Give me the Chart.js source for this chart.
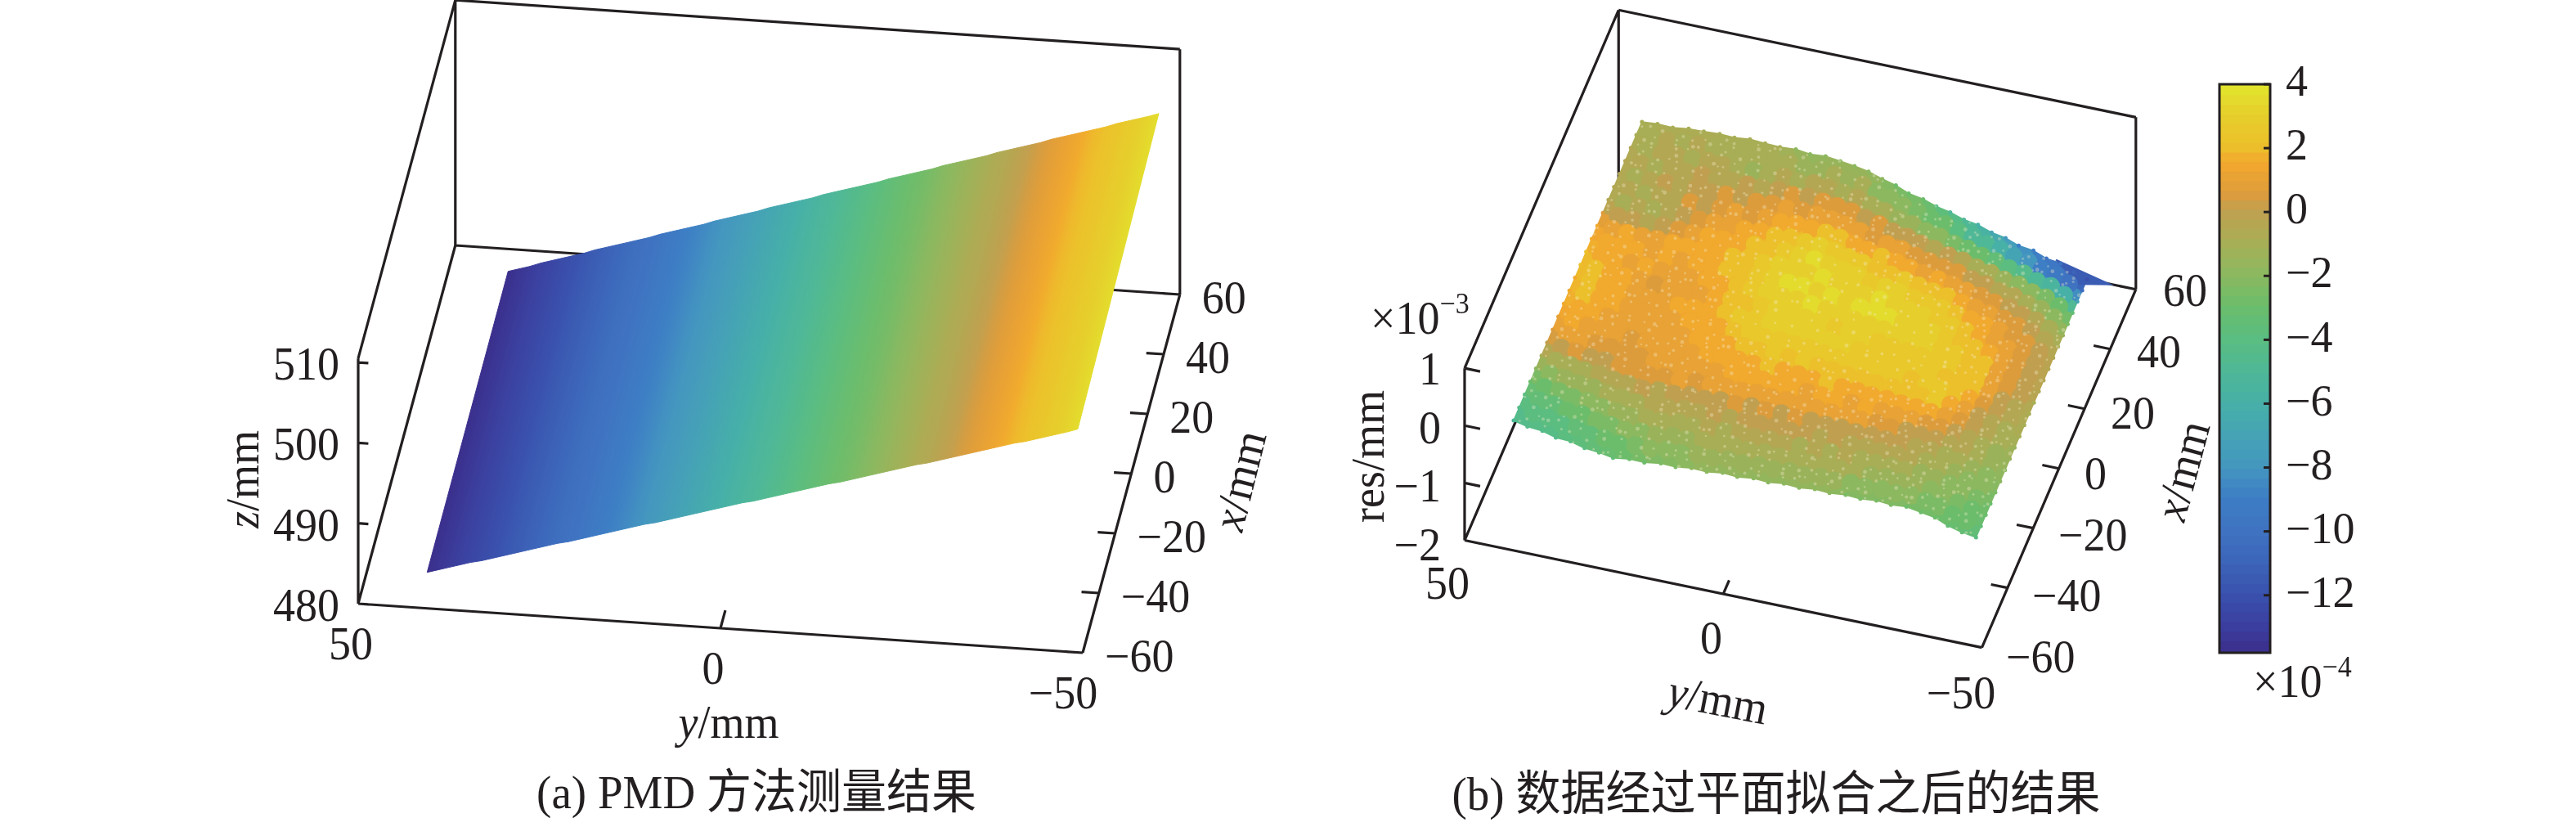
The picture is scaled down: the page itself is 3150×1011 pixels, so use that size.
<!DOCTYPE html>
<html><head><meta charset="utf-8">
<script src="https://cdn.jsdelivr.net/npm/chart.js@4"></script>
<style>
html,body{margin:0;padding:0;background:#fff;width:3150px;height:1011px;overflow:hidden}
canvas{position:absolute;top:0}
</style></head><body>
<canvas id="a" style="left:0"></canvas>
<canvas id="b" style="left:1575px"></canvas>
<canvas id="c" style="left:2700px"></canvas>
<script>
// ---------- axis tick values ----------
const xTicks=[60,40,20,0,-20,-40,-60];
const yTicks=[50,0,-50];
const zTicksA=[510,500,490,480];
const resTicks=[1,0,-1,-2];
const cbTicks=[4,2,0,-2,-4,-6,-8,-10,-12];

// ---------- colour map (value in 1e-4 mm -> colour) ----------
const cmapV=[-13.8,-13,-12,-11,-10,-9,-8,-7,-6,-5,-4,-3,-2,-1,0,0.5,1.45,2,3,3.6,4];
const cmapC=['3b2f8c','3b3f9f','3a52ad','3c65b9','3f73c1','3d7ec5','4497bf','45a4b4','47b0a7','4fb896','5bbd80','6cbd6b','8cb85f','a8ae55','c0a050','dd9c3c','f2a72e','ecc02b','e6cf2c','e3de2d','dfe92e'];

// ---------- panel (a): measured plane, strips along y ----------
const stripY=[41.6,40.1,38.6,37.1,35.6,34.1,32.6,31.1,29.6,28.1,26.6,25.1,23.6,22.1,20.6,19.1,17.6,16.1,14.6,13.1,11.6,10.1,8.6,7.1,5.6,4.1,2.6,1.1,-0.4,-1.9,-3.4,-4.9,-6.4,-7.9,-9.4,-10.9,-12.4,-13.9,-15.4,-16.9,-18.4,-19.9,-21.4,-22.9,-24.4,-25.9,-27.4,-28.9,-30.4,-31.9,-33.4,-34.9,-36.4,-37.9,-39.4,-40.9,-42.4,-43.9,-45.4,-46.9,-48.2];
const stripZFront=[480.7,481.1,481.5,481.9,482.3,482.6,483.0,483.4,483.8,484.2,484.6,485.0,485.4,485.7,486.1,486.5,486.9,487.3,487.7,488.1,488.5,488.8,489.2,489.6,490.0,490.4,490.8,491.2,491.6,492.0,492.3,492.7,493.1,493.5,493.9,494.3,494.7,495.1,495.4,495.8,496.2,496.6,497.0,497.4,497.8,498.2,498.5,498.9,499.3,499.7,500.1,500.5,500.9,501.3,501.7,502.0,502.4,502.8,503.2,503.6,504.0];
const stripZBack=[481.0,481.4,481.8,482.3,482.7,483.1,483.5,483.9,484.4,484.8,485.2,485.6,486.0,486.4,486.9,487.3,487.7,488.1,488.5,489.0,489.4,489.8,490.2,490.6,491.1,491.5,491.9,492.3,492.7,493.2,493.6,494.0,494.4,494.8,495.2,495.7,496.1,496.5,496.9,497.3,497.8,498.2,498.6,499.0,499.4,499.9,500.3,500.7,501.1,501.5,502.0,502.4,502.8,503.2,503.6,504.0,504.5,504.9,505.3,505.7,506.1];

// ---------- panel (b): residual grid, rows back (x high) to front, columns y ----------
const colY=[43,40.1,37.1,34.2,31.3,28.3,25.4,22.5,19.5,16.6,13.6,10.7,7.8,4.8,1.9,-1,-4,-6.9,-9.8,-12.8,-15.7,-18.6,-21.6,-24.5,-27.5,-30.4,-33.3,-36.3,-39.2,-42.1,-45.1,-48];
const edgeBack=[50,50.4,50.2,50.9,51,51.3,51.1,51.6,51.3,51.1,51.4,50.8,51.2,50.6,50,49.2,47.8,46.7,45,44.2,42.8,41.9,40.5,39.8,38.3,37.5,36,35.4,33.8,33.2,31.3,30];
const edgeFront=[-50,-51,-51.4,-52.6,-52.8,-54,-54.4,-55.2,-54.5,-54.6,-53.8,-54,-53.3,-53.5,-52.8,-53.1,-52.5,-52.8,-52.2,-52.5,-51.9,-52.2,-51.7,-52,-51.5,-51.9,-51.5,-52.3,-53,-54.7,-55.8,-56.5];
const resPlane=-0.3;
const resGrid=[
[-1,-1,-1,-1,-1,-1,-1,-1,-1,-1,-2,-2,-2,-2,-2,-2,-2,-3,-3,-3,-4,-5,-5,-6,-7,-8,-9,-9,-10,-10,-11,-12],
[-1,-1,-.5,-1,-.5,-1,-1,-1,-1,-1,-1,-1.5,-1.5,-1,-1.5,-1,-2,-2,-2,-2.5,-3,-3,-4,-5,-5,-6,-7,-8,-9,-9.5,-10,-10.5],
[-.5,-1,-.5,-.5,-1,-.5,-.5,-1,-1.5,-1,-.5,-1,-.5,-.5,-1,-.5,-1,-1,-1.5,-1.5,-2,-2,-2.5,-3,-3,-3.5,-4,-4.5,-5,-5.5,-6,-7],
[-.5,-.5,-1,-.5,-.5,0,-.5,-.5,0,-.5,0,.5,0,.5,.5,.5,0,.5,0,0,0,-.5,0,-.5,-1,-1,-1.5,-2,-2,-2.5,-3,-3.5],
[-.5,-1,-.5,0,-.5,0,0,.5,0,.5,.5,1,.5,1,1,1,1,.5,1,1,.5,.5,.5,.5,0,0,-.5,-.5,-1,-1.5,-2,-2.5],
[-.5,-.5,-1,-.5,-.5,.5,0,.5,1,.5,1,1.5,1.5,1.5,2,2,1.5,1.5,2,1.5,1.5,1,1.5,1,1,.5,.5,0,0,-.5,-1,-1.5],
[-.5,-1,-.5,-1,-.5,0,.5,1,1,1.5,1.5,2,2,2.5,3,2.5,2.5,2.5,2,2,2.5,2,2,2,1.5,1,1,.5,.5,0,-.5,-1],
[.5,0,0,-.5,0,.5,1,1.5,1.5,1.5,2,2,2.5,3,3.5,3,3,3,2.5,3,3,2.5,2.5,2.5,2,1.5,1.5,1,.5,.5,0,-.5],
[1.5,1,1.5,1,1,1.5,1.5,1.5,1.5,2,2,2.5,3,3,3,3.5,3,3,3,3.5,3,3,3,2.5,2.5,2,1.5,1,1,.5,0,-.5],
[1.5,1.5,1.5,1.5,1,1.5,1,1.5,1.5,2,2,2.5,3,3.5,3.5,3,3.5,3,3.5,3.5,3.5,3,3,3,2.5,2,2,1.5,1,.5,0,-.5],
[2,1.5,1.5,1,1.5,1,1,1,1.5,1.5,2,2.5,3,3,3,3.5,3,3,3,3,3,3,3,3,2.5,2.5,2,2,1,.5,0,-.5],
[2,2,1.5,1.5,1,.5,1,1,1,1.5,2,2,2.5,3,3,3,3,2.5,3,3,2.5,2.5,2.5,2.5,2.5,2.5,2,2,1,.5,0,-1],
[1.5,2,1.5,1.5,1,1,1,1.5,1.5,1.5,2,2.5,2.5,3,3,3,3,3,3,2.5,2.5,2.5,2.5,2.5,2.5,2,2,2,1,0,-.5,-1],
[1.5,2,1.5,1.5,1,1,1,1,1.5,1.5,1.5,2,2.5,2.5,2.5,2.5,2.5,2.5,2.5,2.5,2.5,2.5,2.5,2,2.5,2.5,2,1.5,.5,0,-.5,-1],
[1.5,1.5,1.5,1,1,1,1,1,1,1.5,1.5,1.5,2,2,2.5,2,2.5,2,2,2,2,2,2,2,2,2.5,1.5,1,0,-.5,-1,-1],
[1,1.5,1,1,1,.5,1,1,1,1,1.5,1.5,1.5,1.5,2,1.5,1.5,1.5,2,1.5,1.5,1.5,1.5,1.5,1.5,1.5,1,.5,0,-.5,-1,-1.5],
[.5,1,1,.5,.5,.5,.5,1,1,1,1,1,1.5,1.5,1.5,1.5,1.5,1,1.5,1.5,1,1.5,1,1,1,.5,.5,0,-.5,-1,-1.5,-1.5],
[0,0,.5,0,0,.5,.5,.5,.5,1,.5,1,1,1,1,1,1,1,1,1,1,1,.5,.5,0,0,0,-.5,-.5,-1,-1.5,-2],
[-1,-1,-1,-1,-.5,-.5,-.5,0,-.5,0,0,0,0,.5,0,.5,0,.5,0,0,0,0,0,0,0,-.5,-.5,-1,-1,-1.5,-2,-2],
[-2,-2,-1.5,-1.5,-1.5,-1,-1,-1,-.5,-.5,-.5,-.5,0,-.5,0,0,0,0,0,-.5,0,-.5,-.5,-.5,-.5,-.5,-1,-1,-1.5,-2,-2,-2.5],
[-3,-3,-2.5,-2.5,-2,-2,-1.5,-1.5,-1,-1,-1,-1,-.5,-1,-.5,-.5,-.5,-.5,-1,-.5,-1,-.5,-1,-1,-1,-1,-1.5,-1.5,-2,-2,-2.5,-3],
[-4,-3.5,-3.5,-3,-3,-2.5,-2.5,-2,-2,-1.5,-1.5,-1.5,-1,-1,-1,-1,-1,-1,-1,-1,-1,-1,-1,-1.5,-1.5,-1.5,-1.5,-2,-2,-2.5,-3,-3],
[-4.5,-4,-4,-4,-3.5,-3.5,-3,-3,-2.5,-2,-2,-2,-1.5,-1.5,-1.5,-1.5,-1.5,-1.5,-1.5,-1.5,-1.5,-1.5,-2,-2,-2,-2,-2,-2.5,-2.5,-3,-3,-3.5],
[-5,-4.5,-4.5,-4.5,-4,-4,-3.5,-3.5,-3,-3,-2.5,-2.5,-2,-2,-2,-2,-2,-2,-2,-2,-2,-2,-2.5,-2.5,-2.5,-2.5,-3,-3,-3,-3.5,-3.5,-4]
];
// far corner of the surface, the deep blue tip
const tipY=[-41,-52.5,-47];
const tipX=[34,29.9,28];
const tipVal=-11.5;
// measurement drop-outs: position inside a grid cell
const gapU=[.12,.71,.43,.88,.27,.64,.93,.35,.08,.55,.77,.19,.61,.03,.84,.38,.49,.96,.22,.67,.31,.74,.58,.15];
const gapV=[.33,.82,.07,.59,.91,.24,.46,.68,.15,.77,.52,.97,.29,.63,.11,.86,.41,.02,.71,.36,.56,.18,.89,.44];
const gapR=[1.6,2,1.3,2.4,1.5,1.9];
// ---------- colour bar levels ----------
const cbLevels=[-13.8,-13.5,-13.2,-12.9,-12.6,-12.3,-12,-11.7,-11.4,-11.1,-10.8,-10.5,-10.2,-9.9,-9.6,-9.3,-9,-8.7,-8.4,-8.1,-7.8,-7.5,-7.2,-6.9,-6.6,-6.3,-6,-5.7,-5.4,-5.1,-4.8,-4.5,-4.2,-3.9,-3.6,-3.3,-3,-2.7,-2.4,-2.1,-1.8,-1.5,-1.2,-.9,-.6,-.3,.01,.3,.6,.9,1.2,1.5,1.8,2.1,2.4,2.7,3,3.3,3.6,3.9];

// ---------- helpers ----------
const INK='#231f20';
const SERIF="'Liberation Serif','Noto Sans CJK SC',serif";
function hex2(c){return [parseInt(c.slice(0,2),16),parseInt(c.slice(2,4),16),parseInt(c.slice(4,6),16)];}
function cmap(v){
  if(v<=cmapV[0])return '#'+cmapC[0];
  for(let i=1;i<cmapV.length;i++){
    if(v<=cmapV[i]){
      const t=(v-cmapV[i-1])/(cmapV[i]-cmapV[i-1]),p=hex2(cmapC[i-1]),q=hex2(cmapC[i]);
      return `rgb(${p.map((a,k)=>Math.round(a+(q[k]-a)*t)).join(',')})`;
    }
  }
  return '#'+cmapC[cmapC.length-1];
}
const projA=(x,y,z)=>({x:438+(50-y)*8.86+(x+60)*0.99,y:738+(50-y)*0.6-(x+60)*3.65-(z-480)*9.83});
const projB=(x,y,z)=>({x:1784+(50-y)*6.45+(x+60)*1.6,y:664+(50-y)*1.34-(x+60)*3.73-(z+2)*71.7});
const GAP={x:NaN,y:NaN};
function frame(P,zMin,zTop,zT,lenZ,lenY,lenX){
  const pts=[],seg=(a,b)=>{pts.push(P(...a),P(...b),GAP);};
  const A=[60,50,zTop],B=[60,-50,zTop],C=[60,50,zMin],D=[60,-50,zMin],E=[-60,50,zMin],Fr=[-60,-50,zMin],G=[-60,50,zTop];
  [[A,B],[B,D],[A,C],[C,D],[A,G],[G,E],[E,Fr],[Fr,D],[C,E]].forEach(s=>seg(s[0],s[1]));
  zT.forEach(z=>seg([-60,50,z],[-60,50-lenZ,z]));
  seg([-60,0,zMin],[-60+lenY,0,zMin]);
  xTicks.forEach(x=>seg([x,-50,zMin],[x,-50+lenX,zMin]));
  return {label:'frame',data:pts,showLine:true,borderColor:INK,borderWidth:3.2,pointRadius:0,spanGaps:false,order:100,clip:false};
}
function rich(ctx,it,dx){
  ctx.save();ctx.translate(it.x-(dx||0),it.y);if(it.rot)ctx.rotate(it.rot*Math.PI/180);ctx.scale(1,1.05);
  ctx.fillStyle=INK;ctx.textBaseline='alphabetic';ctx.textAlign='left';
  let w=0;it.runs.forEach(r=>{ctx.font=r.f;w+=ctx.measureText(r.t).width;});
  let cx=it.align==='left'?0:it.align==='right'?-w:-w/2;
  it.runs.forEach(r=>{ctx.font=r.f;ctx.fillText(r.t,cx,r.dy||0);cx+=ctx.measureText(r.t).width;});
  ctx.restore();
}
const F=54,R=`${F}px ${SERIF}`,I=`italic ${F}px ${SERIF}`,S=`34px ${SERIF}`,CAP=`55px ${SERIF}`;
const num=v=>String(v).replace('-','\u2212');
function textPlugin(items,dx){return {id:'labels',afterDraw(ch){const ctx=ch.ctx;items.forEach(it=>rich(ctx,it,dx));}};}
function baseOptions(left,w){return {
  responsive:false,animation:false,devicePixelRatio:1,events:[],
  layout:{padding:0},
  plugins:{legend:{display:false},tooltip:{enabled:false},title:{display:false}},
  scales:{x:{type:'linear',display:false,min:left,max:left+w},y:{type:'linear',display:false,min:0,max:1011,reverse:true}}
};}
function size(id,w){const c=document.getElementById(id);c.width=w;c.height=1011;c.style.width=w+'px';c.style.height='1011px';return c;}

// ---------- chart (a) ----------
const canvasA=size('a',1575),ctxA=canvasA.getContext('2d');
const colA=z=>cmap(-13.8+17.8*(z-480.7)/(504.6-480.7));
const dsA=[frame(projA,480,510.5,zTicksA,1.4,6,2.4)];
for(let i=0;i<stripY.length-1;i++){
  const p0=projA(-50,stripY[i],stripZFront[i]),p1=projA(50,stripY[i],stripZBack[i]),q=projA(-50,stripY[i+1],stripZFront[i+1]);
  const dx=p1.x-p0.x,dy=p1.y-p0.y,L=dx*dx+dy*dy,k=((q.x-p0.x)*dx+(q.y-p0.y)*dy)/L;
  const nx=q.x-p0.x-k*dx,ny=q.y-p0.y-k*dy;
  const g=ctxA.createLinearGradient(p0.x,p0.y,p0.x+nx,p0.y+ny);
  g.addColorStop(0,colA(stripZFront[i]));g.addColorStop(1,colA(stripZFront[i+1]));
  dsA.push({label:'strip'+i,showLine:true,pointRadius:0,borderWidth:1,borderColor:g,backgroundColor:g,fill:'shape',order:10,clip:false,
    data:[p0,p1,projA(50,stripY[i+1],stripZBack[i+1]),q,p0]});
}
const labelsA=[];
zTicksA.forEach(z=>{const p=projA(-60,50,z);labelsA.push({x:p.x-23,y:p.y+21,align:'right',runs:[{t:num(z),f:R}]});});
yTicks.forEach(v=>{const p=projA(-60,v,480);labelsA.push({x:p.x-(v<0?24:9),y:p.y+68,align:'center',runs:[{t:num(v),f:R}]});});
xTicks.forEach(v=>{const p=projA(v,-50,480);labelsA.push({x:p.x+27,y:p.y+23,align:'left',runs:[{t:num(v),f:R}]});});
labelsA.push({x:891,y:902,align:'center',runs:[{t:'y',f:I},{t:'/mm',f:R}]});
labelsA.push({x:316,y:586,rot:-90,align:'center',runs:[{t:'z',f:I},{t:'/mm',f:R}]});
labelsA.push({x:1534,y:592,rot:-76,align:'center',runs:[{t:'x',f:I},{t:'/mm',f:R}]});
labelsA.push({x:925,y:988,align:'center',runs:[{t:'(a) PMD 方法测量结果',f:CAP}]});
new Chart('a',{type:'scatter',data:{datasets:dsA},options:baseOptions(0,1575),plugins:[textPlugin(labelsA,0)]});

// ---------- chart (b) ----------
const nR=resGrid.length,nC=colY.length;
const rowX=(c,r)=>edgeBack[c]+(edgeFront[c]-edgeBack[c])*r/(nR-1);
const node=(r,c)=>projB(rowX(c,r),colY[c],resPlane);
const dsB=[frame(projB,-2,1,resTicks,3,4.6,3.2)];
for(let r=0;r<nR-1;r++)for(let c=0;c<nC-1;c++){
  const col=cmap((resGrid[r][c]+resGrid[r][c+1]+resGrid[r+1][c]+resGrid[r+1][c+1])/4);
  const a=node(r,c);
  dsB.push({label:'cell',showLine:true,pointRadius:0,borderWidth:1.5,borderColor:col,backgroundColor:col,fill:'shape',order:20,clip:false,
    data:[a,node(r,c+1),node(r+1,c+1),node(r+1,c),a]});
}
const surfPts=[],surfCols=[],surfRad=[];
resGrid.forEach((row,r)=>row.forEach((v,c)=>{
  surfPts.push(node(r,c));surfCols.push(cmap(v));
  surfRad.push((r===0||r===nR-1||c===0||c===nC-1)?2.5:11);
}));
dsB.push({label:'residual',data:surfPts,showLine:false,pointRadius:surfRad,pointBorderWidth:0,pointBackgroundColor:surfCols,order:10,clip:false});
const tipPts=tipY.map((y,i)=>projB(tipX[i],y,resPlane));tipPts.push(tipPts[0]);
dsB.push({label:'tip',data:tipPts,showLine:true,pointRadius:0,borderWidth:2,borderColor:cmap(tipVal),backgroundColor:cmap(tipVal),fill:'shape',order:15,clip:false});
const gapPts=[],gapRad=[];let gi=0;
for(let r=0;r<nR-1;r++)for(let c=0;c<nC-1;c++)for(let k=0;k<2;k++){
  if(k===1&&resGrid[r][c]>=2.5)continue;
  const idx=(r*7+c*11+k*5)%gapU.length,u=gapU[idx],v=gapV[idx];
  const x0=rowX(c,r+v),x1=rowX(c+1,r+v);
  gapPts.push(projB(x0+(x1-x0)*u,colY[c]+(colY[c+1]-colY[c])*u,resPlane));
  gapRad.push(gapR[gi++%gapR.length]);
}
dsB.push({label:'drop-outs',data:gapPts,showLine:false,pointRadius:gapRad,pointBorderWidth:0,pointBackgroundColor:'rgba(245,238,205,0.34)',order:5,clip:false});
const labelsB=[];
resTicks.forEach(z=>{const p=projB(-60,50,z);labelsB.push({x:1762,y:p.y+21,align:'right',runs:[{t:num(z),f:R}]});});
yTicks.forEach(v=>{const p=projB(-60,v,-2);labelsB.push({x:p.x-(v<0?31:14),y:p.y+68,align:'center',runs:[{t:num(v),f:R}]});});
xTicks.forEach(v=>{const p=projB(v,-50,-2);labelsB.push({x:p.x+24,y:p.y+24,align:'left',runs:[{t:num(v),f:R}]});});
labelsB.push({x:1676,y:408,align:'left',runs:[{t:'\u00d710',f:R},{t:'\u22123',f:S,dy:-24}]});
labelsB.push({x:1692,y:558,rot:-90,align:'center',runs:[{t:'res/mm',f:R}]});
labelsB.push({x:2097,y:874,rot:11,align:'center',runs:[{t:'y',f:I},{t:'/mm',f:R}]});
labelsB.push({x:2687,y:580,rot:-75,align:'center',runs:[{t:'x',f:I},{t:'/mm',f:R}]});
labelsB.push({x:2172,y:990,align:'center',runs:[{t:'(b) 数据经过平面拟合之后的结果',f:CAP}]});
size('b',1139);
new Chart('b',{type:'scatter',data:{datasets:dsB},options:baseOptions(1575,1139),plugins:[textPlugin(labelsB,1575)]});

// ---------- chart (c): colour bar ----------
const cbData=cbLevels.map((v,i)=>({label:String(v),data:[[v,i+1<cbLevels.length?cbLevels[i+1]+0.05:4]],backgroundColor:cmap(v+0.15),borderWidth:0,barPercentage:1,categoryPercentage:1,grouped:false}));
const boxPlugin={id:'box',afterDraw(ch){const a=ch.chartArea,ctx=ch.ctx,sc=ch.scales.y;ctx.save();ctx.strokeStyle=INK;ctx.lineWidth=3;ctx.strokeRect(a.left,a.top,a.right-a.left,a.bottom-a.top);
 cbTicks.forEach(v=>{const py=sc.getPixelForValue(v);ctx.beginPath();ctx.moveTo(a.right-8,py);ctx.lineTo(a.right,py);ctx.stroke();});ctx.restore();
 rich(ctx,{x:55,y:852,align:'left',runs:[{t:'\u00d710',f:R},{t:'\u22124',f:S,dy:-24}]});}};
size('c',450);
new Chart('c',{type:'bar',data:{labels:['colour'],datasets:cbData},plugins:[boxPlugin],options:{
  responsive:false,animation:false,devicePixelRatio:1,events:[],
  layout:{padding:{left:14,top:103,bottom:213,right:0}},
  plugins:{legend:{display:false},tooltip:{enabled:false}},
  scales:{x:{display:false,stacked:false},
    y:{position:'right',min:-13.8,max:4,
       afterFit(s){s.width=374;},
       afterBuildTicks(s){s.ticks=cbTicks.map(v=>({value:v}));},
       border:{display:false},
       grid:{drawOnChartArea:false,drawTicks:false},
       ticks:{color:INK,padding:19,font:{family:SERIF,size:F},callback:v=>num(v),autoSkip:false,maxRotation:0}}}
}});
</script>
</body></html>
